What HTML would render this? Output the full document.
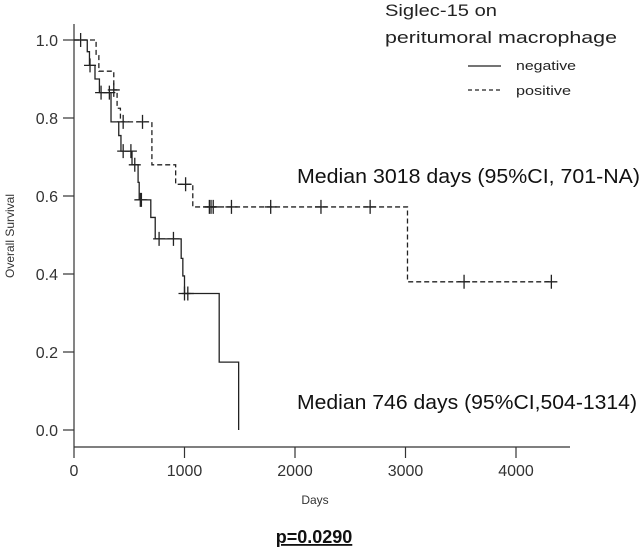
<!DOCTYPE html>
<html><head><meta charset="utf-8"><style>
html,body{margin:0;padding:0;background:#fff;}
svg{display:block;font-family:"Liberation Sans",sans-serif;}
</style></head><body>
<svg id="chart" width="643" height="553" viewBox="0 0 643 553">
<g id="axes"></g>
<g id="series"></g>
<text x="385" y="16" font-size="17" fill="#222" textLength="112" lengthAdjust="spacingAndGlyphs">Siglec-15 on</text>
<text x="385" y="43" font-size="17" fill="#222" textLength="232" lengthAdjust="spacingAndGlyphs">peritumoral  macrophage</text>
<line x1="468" y1="66" x2="501" y2="66" stroke="#222" stroke-width="1.2"/>
<text x="516" y="70" font-size="13" fill="#222" textLength="60" lengthAdjust="spacingAndGlyphs">negative</text>
<line x1="468" y1="90" x2="501" y2="90" stroke="#222" stroke-width="1.2" stroke-dasharray="4,3"/>
<text x="516" y="95" font-size="13" fill="#222" textLength="55" lengthAdjust="spacingAndGlyphs">positive</text>
<text x="297" y="183" font-size="20" fill="#111" textLength="343" lengthAdjust="spacingAndGlyphs">Median 3018 days (95%CI, 701-NA)</text>
<text x="297" y="409" font-size="20" fill="#111" textLength="340" lengthAdjust="spacingAndGlyphs">Median 746 days (95%CI,504-1314)</text>
<text x="315" y="504" font-size="12" fill="#333" text-anchor="middle">Days</text>
<text x="14" y="236" font-size="12" fill="#333" text-anchor="middle" transform="rotate(-90 14 236)">Overall Survival</text>
<text x="314" y="543" font-size="18" font-weight="bold" fill="#111" text-anchor="middle" text-decoration="underline">p=0.0290</text>
</svg>
<script>
const xTicks=[0,1000,2000,3000,4000];
const yTicks=[0.0,0.2,0.4,0.6,0.8,1.0];
const negTimes=[120,140,190,230,335,405,425,525,580,590,695,735,970,985,1000,1314,1490];
const negSurv=[0.97,0.935,0.90,0.865,0.79,0.755,0.715,0.68,0.635,0.59,0.545,0.49,0.44,0.395,0.35,0.174,0.0];
const negCensor=[60,145,245,320,445,515,550,600,610,770,900,1000,1030];
const posTimes=[200,225,360,390,420,705,920,1075,3018];
const posSurv=[0.96,0.92,0.872,0.825,0.79,0.68,0.63,0.572,0.38];
const posCensor=[360,445,620,1010,1225,1240,1260,1425,1780,2235,2680,3530,4320];
const NS='http://www.w3.org/2000/svg';
const X=d=>74+d*0.1105;
const Y=v=>430-v*390;
function mk(t,a,p){const e=document.createElementNS(NS,t);for(const k in a)e.setAttribute(k,a[k]);p.appendChild(e);return e;}
const ax=document.getElementById('axes');
let e=mk('line',{x1:74,y1:24,x2:74,y2:447,stroke:'#333','stroke-width':1.2},ax);


e=mk('line',{x1:74,y1:447,x2:570,y2:447,stroke:'#333','stroke-width':1.2},ax);


yTicks.forEach(v=>{
 mk('line',{x1:63,y1:Y(v),x2:74,y2:Y(v),stroke:'#333','stroke-width':1.2},ax);
 const t=mk('text',{x:58,y:Y(v)+6,'font-size':16,'text-anchor':'end',fill:'#333'},ax);
 t.textContent=v.toFixed(1);
 
 
});
xTicks.forEach(v=>{
 mk('line',{x1:X(v),y1:447,x2:X(v),y2:458,stroke:'#333','stroke-width':1.2},ax);
 const t=mk('text',{x:X(v),y:476,'font-size':16,'text-anchor':'middle',fill:'#333'},ax);
 t.textContent=v;
 
 
});
function survAt(times,surv,d){let s=1;for(let i=0;i<times.length;i++){if(times[i]<=d)s=surv[i];}return s;}
const sg=document.getElementById('series');
function drawCurve(times,surv,censor,end,dash,name){
 let d='M'+X(0)+','+Y(1);
 times.forEach((t,i)=>{d+=' H'+X(t)+' V'+Y(surv[i]);});
 if(end>times[times.length-1]) d+=' H'+X(end);
 const p=mk('path',{d:d,fill:'none',stroke:'#222','stroke-width':1.3,'stroke-dasharray':dash},sg);
 
 
 censor.forEach(c=>{
  const v=survAt(times,surv,c),x=X(c),y=Y(v);
  const m=mk('path',{d:`M${x-6},${y} H${x+6} M${x},${y-7} V${y+7}`,stroke:'#222','stroke-width':1.3,fill:'none'},sg);
  
  
 });
}
drawCurve(negTimes,negSurv,negCensor,1490,'none','negative');
drawCurve(posTimes,posSurv,posCensor,4320,'5,3','positive');
</script>
</body></html>
